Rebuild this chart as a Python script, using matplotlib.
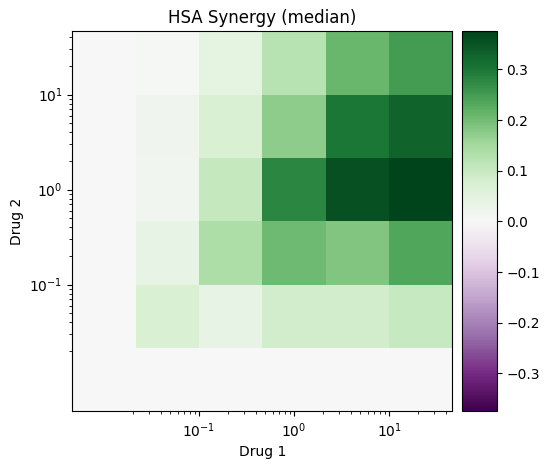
import numpy as np
import matplotlib
matplotlib.use("Agg")
import matplotlib.pyplot as plt
from matplotlib.ticker import FixedLocator, NullFormatter

# doses (first entry stands in for zero dose on the log axis)
drug1_doses = [0.01, 0.0464, 0.215, 1.0, 4.64, 21.5]
drug2_doses = [0.01, 0.0464, 0.215, 1.0, 4.64, 21.5]

# median HSA synergy, rows = drug 2 dose (low -> high), cols = drug 1 dose
synergy = [
    [0.0, 0.000, 0.000, 0.000, 0.000, 0.000],
    [0.0, 0.075, 0.040, 0.085, 0.085, 0.100],
    [0.0, 0.040, 0.140, 0.205, 0.185, 0.235],
    [0.0, 0.015, 0.105, 0.280, 0.355, 0.375],
    [0.0, 0.020, 0.075, 0.175, 0.300, 0.330],
    [0.0, 0.005, 0.045, 0.125, 0.210, 0.250],
]

major_ticks = [0.1, 1, 10]
minor_ticks = [m * 10.0 ** e for e in (-2, -1, 0, 1) for m in range(2, 10)]

title = "HSA Synergy (median)"


def log_edges(d):
    ld = np.log10(d)
    mid = (ld[1:] + ld[:-1]) / 2
    first = ld[0] - (mid[0] - ld[0])
    last = ld[-1] + (ld[-1] - mid[-1])
    return 10 ** np.concatenate([[first], mid, [last]])


Z = np.array(synergy)
vmax = np.abs(Z).max()

fig = plt.figure(figsize=(5.48, 4.69), dpi=100)
ax = fig.add_axes([0.132, 0.123, 0.6934, 0.810])
cax = fig.add_axes([0.843, 0.123, 0.0633, 0.810])

mesh = ax.pcolormesh(log_edges(drug1_doses), log_edges(drug2_doses), Z,
                     cmap="PRGn", vmin=-vmax, vmax=vmax)
ax.set_xscale("log")
ax.set_yscale("log")
for axis in (ax.xaxis, ax.yaxis):
    axis.set_major_locator(FixedLocator(major_ticks))
    axis.set_minor_locator(FixedLocator(minor_ticks))
    axis.set_minor_formatter(NullFormatter())
ax.set_xlabel("Drug 1")
ax.set_ylabel("Drug 2")
ax.set_title(title)

fig.colorbar(mesh, cax=cax)

fig.savefig("out.png", dpi=100)
